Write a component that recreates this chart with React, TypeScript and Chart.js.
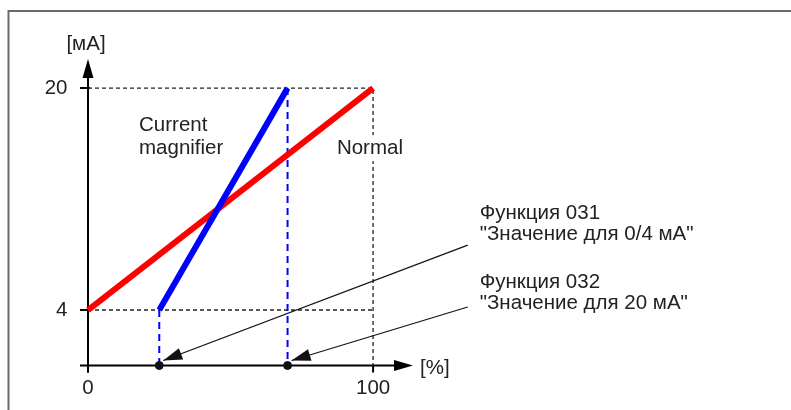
import React, { useEffect, useRef } from "react";
import { Chart, registerables } from "chart.js";

Chart.register(...registerables);

// ---- data ----
const normalX = [0, 100];
const normalY = [4, 20];
const magnifierX = [25, 70];
const magnifierY = [4, 20];
const setpointX = [25, 70];
const xTickValues = [0, 100];
const yTickValues = [4, 20];
const xAxisMax = 114;
const yAxisMax = 22.1;
const yAxisTitle = "[мА]";
const xAxisTitle = "[%]";
const magnifierLabel = ["Current", "magnifier"];
const normalLabel = "Normal";
const func031Label = ["Функция 031", "\"Значение для 0/4 мА\""];
const func032Label = ["Функция 032", "\"Значение для 20 мА\""];

const FAMILY = "'Liberation Sans', Arial, sans-serif";
const FONT = "20.5px " + FAMILY;
const TEXT = "#222222";

const pts = (xs: number[], ys: number[]) => xs.map((x, i) => ({ x, y: ys[i] }));

const drawArrowHead = (ctx: CanvasRenderingContext2D, fx: number, fy: number, tx: number, ty: number, len: number, half: number) => {
  const a = Math.atan2(ty - fy, tx - fx);
  ctx.beginPath();
  ctx.moveTo(tx, ty);
  ctx.lineTo(tx - len * Math.cos(a) + half * Math.sin(a), ty - len * Math.sin(a) - half * Math.cos(a));
  ctx.lineTo(tx - len * Math.cos(a) - half * Math.sin(a), ty - len * Math.sin(a) + half * Math.cos(a));
  ctx.closePath();
  ctx.fill();
};

const frameAxesPlugin = {
  id: "frameAxes",
  beforeDatasetsDraw(chart: any) {
    const ctx = chart.ctx as CanvasRenderingContext2D;
    const xs = chart.scales.x;
    const ys = chart.scales.y;
    const x0 = xs.getPixelForValue(0);
    const y0 = ys.getPixelForValue(0);
    const xEnd = xs.getPixelForValue(xAxisMax);
    const yEnd = ys.getPixelForValue(yAxisMax);
    ctx.save();
    // outer frame
    ctx.strokeStyle = "#6b6b6b";
    ctx.lineWidth = 2;
    ctx.strokeRect(8.5, 11, 900, 600);
    // axes
    ctx.strokeStyle = "#000";
    ctx.fillStyle = "#000";
    ctx.lineWidth = 2;
    ctx.beginPath();
    ctx.moveTo(x0, y0 + 7);
    ctx.lineTo(x0, yEnd + 14);
    ctx.moveTo(x0 - 8, y0);
    ctx.lineTo(xEnd - 14, y0);
    ctx.stroke();
    drawArrowHead(ctx, x0, y0, x0, yEnd, 19, 5.5);
    drawArrowHead(ctx, x0, y0, xEnd, y0, 19, 5.5);
    // tick marks
    ctx.beginPath();
    xTickValues.forEach((v) => {
      const p = xs.getPixelForValue(v);
      ctx.moveTo(p, y0);
      ctx.lineTo(p, y0 + 7);
    });
    yTickValues.forEach((v) => {
      const p = ys.getPixelForValue(v);
      ctx.moveTo(x0 - 8, p);
      ctx.lineTo(x0 + 2, p);
    });
    ctx.stroke();
    // axis titles
    ctx.font = FONT;
    ctx.fillStyle = TEXT;
    ctx.textAlign = "center";
    ctx.textBaseline = "middle";
    ctx.fillText(yAxisTitle, x0 - 2, yEnd - 15);
    ctx.textAlign = "left";
    ctx.fillText(xAxisTitle, xEnd + 7, y0 + 3);
    ctx.restore();
  },
  afterDatasetsDraw(chart: any) {
    const ctx = chart.ctx as CanvasRenderingContext2D;
    const xs = chart.scales.x;
    const ys = chart.scales.y;
    const px = (v: number) => xs.getPixelForValue(v);
    const py = (v: number) => ys.getPixelForValue(v);
    ctx.save();
    ctx.font = FONT;
    ctx.textAlign = "left";
    ctx.textBaseline = "alphabetic";
    // Normal label with white background
    const nx = px(87.3);
    const nyb = py(15.24);
    const nw = ctx.measureText(normalLabel).width;
    ctx.fillStyle = "#fff";
    ctx.fillRect(nx - 2, nyb - 19, nw + 4, 26);
    ctx.fillStyle = TEXT;
    ctx.fillText(normalLabel, nx, nyb);
    // Current magnifier
    ctx.fillText(magnifierLabel[0], px(17.9), py(16.9));
    ctx.fillText(magnifierLabel[1], px(17.9), py(15.24));
    // function labels
    ctx.fillText(func031Label[0], px(137.4), py(10.56));
    ctx.fillText(func031Label[1], px(137.4), py(9.05));
    ctx.fillText(func032Label[0], px(137.4), py(5.6));
    ctx.fillText(func032Label[1], px(137.4), py(4.1));
    // annotation arrows
    ctx.strokeStyle = "#111";
    ctx.fillStyle = "#111";
    ctx.lineWidth = 1.2;
    const arrows = [
      { sx: px(133.2), sy: py(8.68), tx: px(setpointX[0]) + 4, ty: py(0) - 5 },
      { sx: px(133.2), sy: py(4.22), tx: px(setpointX[1]) + 4, ty: py(0) - 5 },
    ];
    arrows.forEach((a) => {
      ctx.beginPath();
      ctx.moveTo(a.sx, a.sy);
      ctx.lineTo(a.tx, a.ty);
      ctx.stroke();
      drawArrowHead(ctx, a.sx, a.sy, a.tx, a.ty, 19, 6);
    });
    ctx.restore();
  },
};

export default function App() {
  const ref = useRef<HTMLCanvasElement | null>(null);
  useEffect(() => {
    if (!ref.current) return;
    const common = { clip: false as any, pointRadius: 0, fill: false, tension: 0 };
    const chart = new Chart(ref.current, {
      type: "line",
      data: {
        datasets: [
          { ...common, label: "dots", data: setpointX.map((x) => ({ x, y: 0 })), showLine: false, pointRadius: 4, pointBackgroundColor: "#111", pointBorderColor: "#111", order: 0 },
          { ...common, label: "magnifier", data: pts(magnifierX, magnifierY), borderColor: "#0000ff", borderWidth: 6, order: 1 },
          { ...common, label: "normal", data: pts(normalX, normalY), borderColor: "#ff0000", borderWidth: 6, order: 2 },
          { ...common, label: "drop1", data: [{ x: magnifierX[0], y: magnifierY[0] }, { x: magnifierX[0], y: 0 }], borderColor: "#0000ff", borderWidth: 2, borderDash: [7, 5], order: 3 },
          { ...common, label: "drop2", data: [{ x: magnifierX[1], y: magnifierY[1] }, { x: magnifierX[1], y: 0 }], borderColor: "#0000ff", borderWidth: 2, borderDash: [7, 5], order: 3 },
          { ...common, label: "guide20", data: [{ x: 0, y: normalY[1] }, { x: normalX[1], y: normalY[1] }, { x: normalX[1], y: 0 }], borderColor: "#222", borderWidth: 1.3, borderDash: [4, 3], order: 4 },
          { ...common, label: "guide4", data: [{ x: 0, y: normalY[0] }, { x: normalX[1], y: normalY[0] }], borderColor: "#222", borderWidth: 1.3, borderDash: [4, 3], order: 4 },
        ],
      },
      options: {
        animation: false,
        responsive: false,
        devicePixelRatio: 1,
        layout: { padding: { left: 38, top: 59, right: 378, bottom: 14.5 } },
        plugins: { legend: { display: false }, tooltip: { enabled: false }, title: { display: false } },
        scales: {
          x: {
            type: "linear",
            min: 0,
            max: xAxisMax,
            grid: { display: false, drawTicks: false },
            border: { display: false },
            afterBuildTicks: (s: any) => { s.ticks = xTickValues.map((v) => ({ value: v })); },
            afterFit: (s: any) => { s.height = 30; },
            ticks: { autoSkip: false, maxRotation: 0, padding: 11, color: TEXT, font: { family: FAMILY, size: 20.5 }, callback: (v: any) => String(v) },
          },
          y: {
            type: "linear",
            min: 0,
            max: yAxisMax,
            grid: { display: false, drawTicks: false },
            border: { display: false },
            afterBuildTicks: (s: any) => { s.ticks = yTickValues.map((v) => ({ value: v })); },
            afterFit: (s: any) => { s.width = 50; },
            ticks: { autoSkip: false, padding: 20.5, color: TEXT, font: { family: FAMILY, size: 20.5 }, callback: (v: any) => String(v) },
          },
        },
      },
      plugins: [frameAxesPlugin],
    });
    return () => chart.destroy();
  }, []);
  return (
    <div style={{ position: "fixed", left: 0, top: 0, width: 791, height: 410, background: "#fff" }}>
      <canvas ref={ref} width={791} height={410} style={{ display: "block" }} />
    </div>
  );
}
